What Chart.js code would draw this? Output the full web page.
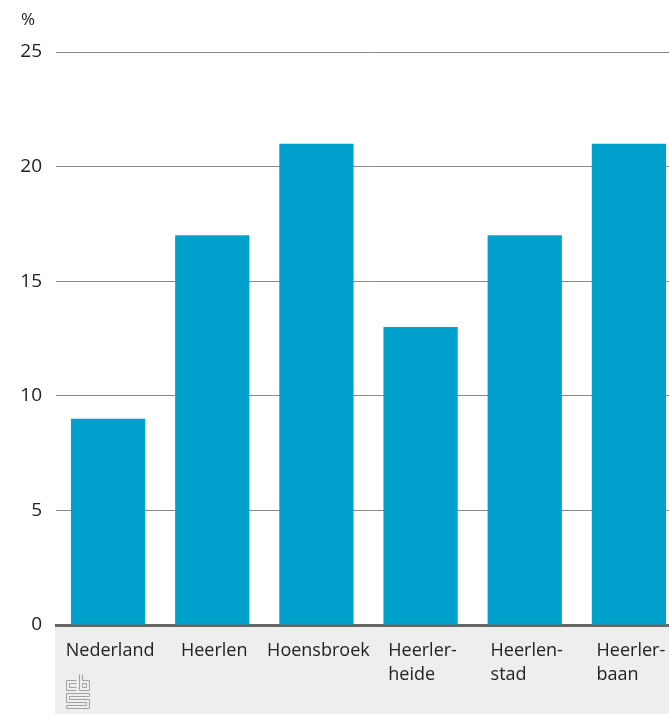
<!DOCTYPE html>
<html>
<head>
<meta charset="utf-8">
<script src="https://cdn.jsdelivr.net/npm/chart.js@4"></script>
<style>
html,body{margin:0;padding:0;overflow:hidden;background:#fff;}
#wrap{width:681px;height:714px;}
</style>
</head>
<body>
<div id="wrap"><canvas id="c" width="681" height="714"></canvas></div>
<script>
const categories = [["Nederland"], ["Heerlen"], ["Hoensbroek"], ["Heerler-", "heide"], ["Heerlen-", "stad"], ["Heerler-", "baan"]];
const values = [9, 17, 21, 13, 17, 21];
const yTicks = [0, 5, 10, 15, 20, 25];
const unitLabel = "%";

const FONT = "'Open Sans', 'Noto Sans', sans-serif";

const bgPlugin = {
  id: 'bg',
  beforeDraw(chart) {
    const {ctx, chartArea} = chart;
    ctx.save();
    ctx.fillStyle = '#eeeeee';
    ctx.fillRect(chartArea.left - 1, chartArea.bottom + 1, chart.width, chart.height);
    ctx.restore();
  }
};

const labelPlugin = {
  id: 'labels',
  afterDraw(chart) {
    const {ctx, chartArea} = chart;
    const xs = chart.scales.x;
    ctx.save();
    ctx.font = '18px ' + FONT;
    ctx.fillStyle = '#222222';
    ctx.textAlign = 'left';
    ctx.textBaseline = 'alphabetic';
    categories.forEach((lines, i) => {
      const cx = xs.getPixelForValue(i);
      const w = Math.max(...lines.map(l => ctx.measureText(l).width));
      const left = cx - w / 2 + 2;
      lines.forEach((l, j) => ctx.fillText(l, left, chartArea.bottom + 31 + j * 23.5));
    });
    // unit label
    ctx.font = '17px ' + FONT;
    ctx.fillText(unitLabel, 21, 25);
    // logo (approximation)
    ctx.strokeStyle = '#a0a0a0';
    ctx.lineWidth = 1;
    const ox = 66.5, oy = 674.5;
    ctx.beginPath();
    // c
    ctx.moveTo(ox + 10, oy + 6); ctx.lineTo(ox, oy + 6); ctx.lineTo(ox, oy + 16); ctx.lineTo(ox + 10, oy + 16);
    ctx.moveTo(ox + 10, oy + 9); ctx.lineTo(ox + 3, oy + 9); ctx.lineTo(ox + 3, oy + 13); ctx.lineTo(ox + 10, oy + 13);
    // b
    ctx.moveTo(ox + 13, oy); ctx.lineTo(ox + 13, oy + 16); ctx.lineTo(ox + 23, oy + 16); ctx.lineTo(ox + 23, oy + 6); ctx.lineTo(ox + 16, oy + 6); ctx.lineTo(ox + 16, oy);
    ctx.moveTo(ox + 16, oy + 9); ctx.lineTo(ox + 20, oy + 9); ctx.lineTo(ox + 20, oy + 13); ctx.lineTo(ox + 16, oy + 13); ctx.closePath();
    // S
    ctx.moveTo(ox + 23, oy + 19); ctx.lineTo(ox, oy + 19); ctx.lineTo(ox, oy + 28); ctx.lineTo(ox + 20, oy + 28); ctx.lineTo(ox + 20, oy + 31); ctx.lineTo(ox, oy + 31); ctx.lineTo(ox, oy + 34); ctx.lineTo(ox + 23, oy + 34); ctx.lineTo(ox + 23, oy + 25); ctx.lineTo(ox + 3, oy + 25); ctx.lineTo(ox + 3, oy + 22); ctx.lineTo(ox + 23, oy + 22); ctx.closePath();
    ctx.stroke();
    ctx.restore();
  }
};

new Chart(document.getElementById('c'), {
  type: 'bar',
  data: {
    labels: categories,
    datasets: [{
      data: values,
      backgroundColor: '#00a1cd',
      borderWidth: 0,
      barPercentage: 0.713,
      categoryPercentage: 1
    }]
  },
  options: {
    responsive: false,
    animation: false,
    devicePixelRatio: 1,
    layout: { padding: { top: 52, left: 0, right: 0, bottom: 0 } },
    plugins: { legend: { display: false }, tooltip: { enabled: false }, title: { display: false } },
    scales: {
      x: {
        grid: { display: false, drawTicks: false },
        border: { display: true, color: '#666666', width: 3 },
        ticks: { display: false },
        afterFit(scale) { scale.height = 89; }
      },
      y: {
        min: 0, max: 25,
        afterBuildTicks(scale) { scale.ticks = yTicks.map(v => ({ value: v })); },
        grid: {
          drawTicks: false,
          color: (c) => c.tick && c.tick.value === 0 ? 'rgba(0,0,0,0)' : '#888888',
          lineWidth: 1
        },
        border: { display: false },
        ticks: {
          padding: 14,
          color: '#222222',
          font: { family: FONT, size: 19 }
        },
        afterFit(scale) { scale.width = 56; }
      }
    }
  },
  plugins: [bgPlugin, labelPlugin]
});
</script>
</body>
</html>
